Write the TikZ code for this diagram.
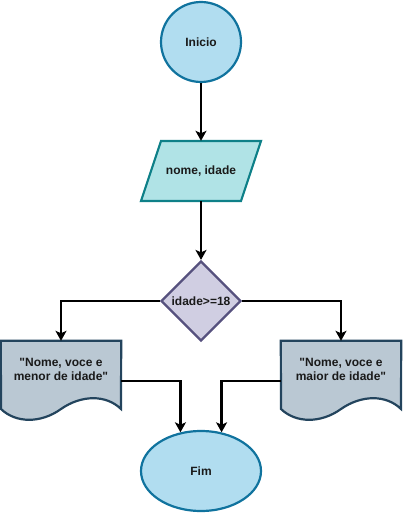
\documentclass[tikz,border=0pt]{standalone}
\usepackage{fontspec}
\setmainfont{Liberation Sans}
\usetikzlibrary{shapes.geometric,arrows.meta}
\definecolor{termfill}{HTML}{B1DDF0}
\definecolor{termline}{HTML}{10739E}
\definecolor{iofill}{HTML}{B0E3E6}
\definecolor{ioline}{HTML}{0E8088}
\definecolor{decfill}{HTML}{D0CEE2}
\definecolor{decline}{HTML}{56517E}
\definecolor{docfill}{HTML}{BAC8D3}
\definecolor{docline}{HTML}{23445D}
\definecolor{txt}{HTML}{1A1A1A}
\tikzset{
  lbl/.style={font=\bfseries\fontsize{12}{14}\selectfont, text=txt, align=center},
  term/.style={lbl, ellipse, draw=termline, fill=termfill, line width=2.2pt, inner sep=0pt},
  holder/.style={rectangle, draw=none, inner sep=0pt},
  decbox/.style={lbl, diamond, draw=decline, fill=decfill, line width=2.2pt, inner sep=0pt, minimum width=80pt, minimum height=80pt},
  flow/.style={line width=2.7pt, -{Stealth[length=10pt,width=11pt,inset=2.5pt]}},
  iopath/.style={draw=ioline, fill=iofill, line width=2.2pt, line join=miter},
  docpath/.style={draw=docline, fill=docfill, line width=2.2pt, line join=miter},
}
\begin{document}
\begin{tikzpicture}[x=1pt,y=-1pt]
\useasboundingbox (0,0) rectangle (403,513);
% start
\node[term, minimum width=80pt, minimum height=80pt] (ini) at (201,42) {Inicio};
% input
\node[holder, minimum width=120pt, minimum height=60pt] (inp) at (201,171) {};
\draw[iopath] (161,141) -- (261,141) -- (241,201) -- (141,201) -- cycle;
\node[lbl] (inptxt) at (inp.center) {nome, idade};
% decision
\node[decbox] (dec) at (201,301) {idade>=18};
% documents
\node[holder, minimum width=120pt, minimum height=80pt] (ldoc) at (61,381) {};
\draw[docpath] (ldoc.north west) -- (ldoc.north east) -- (121,409)
  .. controls (106.33,394.6) and (81.67,394.6) .. (61,409)
  .. controls (41,423.4) and (16,423.4) .. (1,409) -- cycle;
\node[lbl] (ldoctxt) at (61,369) {\textquotedbl Nome, voce e\\menor de idade\textquotedbl};
\node[holder, minimum width=120pt, minimum height=80pt] (rdoc) at (341,381) {};
\draw[docpath] (rdoc.north west) -- (rdoc.north east) -- (401,409)
  .. controls (386.33,394.6) and (361.67,394.6) .. (341,409)
  .. controls (321,423.4) and (296,423.4) .. (281,409) -- cycle;
\node[lbl] (rdoctxt) at (341,369) {\textquotedbl Nome, voce e\\maior de idade\textquotedbl};
% end
\node[term, minimum width=120pt, minimum height=80pt] (fim) at (201,471) {Fim};
% connectors
\draw[flow] (ini.south) -- (inp.north);
\draw[flow] (inp.south) -- (dec.north);
\draw[flow] (dec.west) -| (ldoc.north);
\draw[flow] (dec.east) -| (rdoc.north);
\draw[flow] (ldoc.east) -| (fim.118);
\draw[flow] (rdoc.west) -| (fim.62);
\end{tikzpicture}
\end{document}
